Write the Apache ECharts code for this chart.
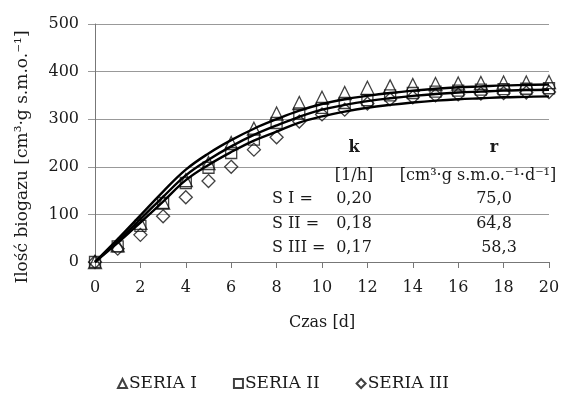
<!DOCTYPE html>
<html>
<head>
<meta charset="utf-8">
<script src="https://cdn.jsdelivr.net/npm/echarts@6/dist/echarts.min.js"></script>
<style>
html,body{margin:0;padding:0;background:#fff;}
#chart{width:566px;height:401px;}
</style>
</head>
<body>
<div id="chart"></div>
<script>
// ---- data ----
var days = [0,1,2,3,4,5,6,7,8,9,10,11,12,13,14,15,16,17,18,19,20];
// measured points
var seria1 = [0,35,82,125,172,208,250,280,312,334,345,355,366,369,372,374,375,376,377,377,378];
var seria2 = [0,33,76,124,166,198,229,257,292,312,324,334,340,350,355,358,360,362,363,364,365];
var seria3 = [0,28,57,96,136,170,200,236,262,295,310,320,333,342,346,350,352,354,355,356,357];
// fitted curves
var fit1 = [0,48,98,148,194,228,256,280,300,318,332,342,349,355,360,364,367,369,371,372,373];
var fit2 = [0,44,90,137,182,215,243,267,287,305,320,330,338,344,349,353,356,358,360,361,362];
var fit3 = [0,40,83,127,172,204,231,255,274,293,306,316,324,330,335,339,342,344,346,347,348];
var seriesNames = ['SERIA I','SERIA II','SERIA III'];
var xTicks = [0,2,4,6,8,10,12,14,16,18,20];
var yTicks = [0,100,200,300,400,500];
// annotation table
var tableRowLabels = ['S I =','S II =','S III ='];
var kValues = ['0,20','0,18','0,17'];
var rValues = ['75,0','64,8','58,3'];
var kHeader = 'k', kUnit = '[1/h]';
var rHeader = 'r', rUnit = '[cm\u00B3\u00B7g s.m.o.\u207B\u00B9\u00B7d\u207B\u00B9]';

function pairs(arr){ return days.map(function(d,i){ return [d, arr[i]]; }); }

var FONT = '"DejaVu Serif","Liberation Serif",serif';
var TXT = '#1a1a1a';

var chart = echarts.init(document.getElementById('chart'));

var markerStyle = {color:'rgba(0,0,0,0)', borderColor:'#111', borderWidth:1.3};
function scatter(name, arr, sym, size){
  return {name:name, type:'scatter', data:pairs(arr), symbol:sym, symbolSize:size,
          itemStyle:markerStyle, z:3};
}
function curve(arr){
  return {type:'line', data:pairs(arr), smooth:0.4, showSymbol:false, symbol:'none',
          lineStyle:{color:'#000', width:2.4}, z:4, silent:true};
}

function txt(x, y, s, align, bold, size){
  return {type:'text', x:x, y:y, z:10, style:{text:s, font:(bold?'bold ':'')+(size||16)+'px '+FONT, fill:TXT,
    align:align, verticalAlign:'middle', textAlign:align, textVerticalAlign:'middle'}};
}
var graphics = [];
var colK = 354, colR = 494, rowLeft = 272;
graphics.push(txt(colK, 148, kHeader, 'center', true));
graphics.push(txt(colR, 148, rHeader, 'center', true));
graphics.push(txt(colK, 176, kUnit, 'center', false));
graphics.push(txt(478, 176, rUnit, 'center', false, 16));
var rowY = [199, 224, 248];
for (var i=0;i<3;i++){
  graphics.push(txt(rowLeft, rowY[i], tableRowLabels[i], 'left', false));
  graphics.push(txt(colK, rowY[i], kValues[i], 'center', false));
  graphics.push(txt(colR + (i==2?5:0), rowY[i], rValues[i], 'center', false));
}

chart.setOption({
  animation:false,
  backgroundColor:'#fff',
  textStyle:{fontFamily:FONT, color:TXT},
  grid:{left:95, right:17, top:24, bottom:139, containLabel:false},
  xAxis:{
    type:'value', min:xTicks[0], max:xTicks[xTicks.length-1], interval:2,
    name:'Czas [d]', nameLocation:'middle', nameGap:53,
    nameTextStyle:{fontFamily:FONT, fontSize:16, color:TXT},
    axisLine:{show:true, lineStyle:{color:'#777', width:1}},
    axisTick:{show:true, length:6, lineStyle:{color:'#777'}},
    axisLabel:{fontFamily:FONT, fontSize:16, color:TXT, margin:18},
    splitLine:{show:false}
  },
  yAxis:{
    type:'value', min:yTicks[0], max:yTicks[yTicks.length-1], interval:100,
    name:'Ilość biogazu [cm\u00B3\u00B7g s.m.o.\u207B\u00B9]', nameLocation:'middle', nameGap:64,
    nameTextStyle:{fontFamily:FONT, fontSize:17, color:TXT, padding:[0,28,0,0]},
    axisLine:{show:true, lineStyle:{color:'#777', width:1}},
    axisTick:{show:true, length:7, lineStyle:{color:'#999'}},
    axisLabel:{fontFamily:FONT, fontSize:16, color:TXT, margin:16},
    splitLine:{show:true, lineStyle:{color:'#999', width:1}}
  },
  legend:{
    data:seriesNames, bottom:4, left:'center', itemGap:36, itemWidth:9, itemHeight:9,
    textStyle:{fontFamily:FONT, fontSize:17, color:TXT, padding:[0,0,0,-3]}
  },
  graphic:graphics,
  series:[
    curve(fit1), curve(fit2), curve(fit3),
    scatter(seriesNames[0], seria1, 'triangle', 13),
    scatter(seriesNames[1], seria2, 'rect', 11),
    scatter(seriesNames[2], seria3, 'diamond', 13)
  ]
});
</script>
</body>
</html>
